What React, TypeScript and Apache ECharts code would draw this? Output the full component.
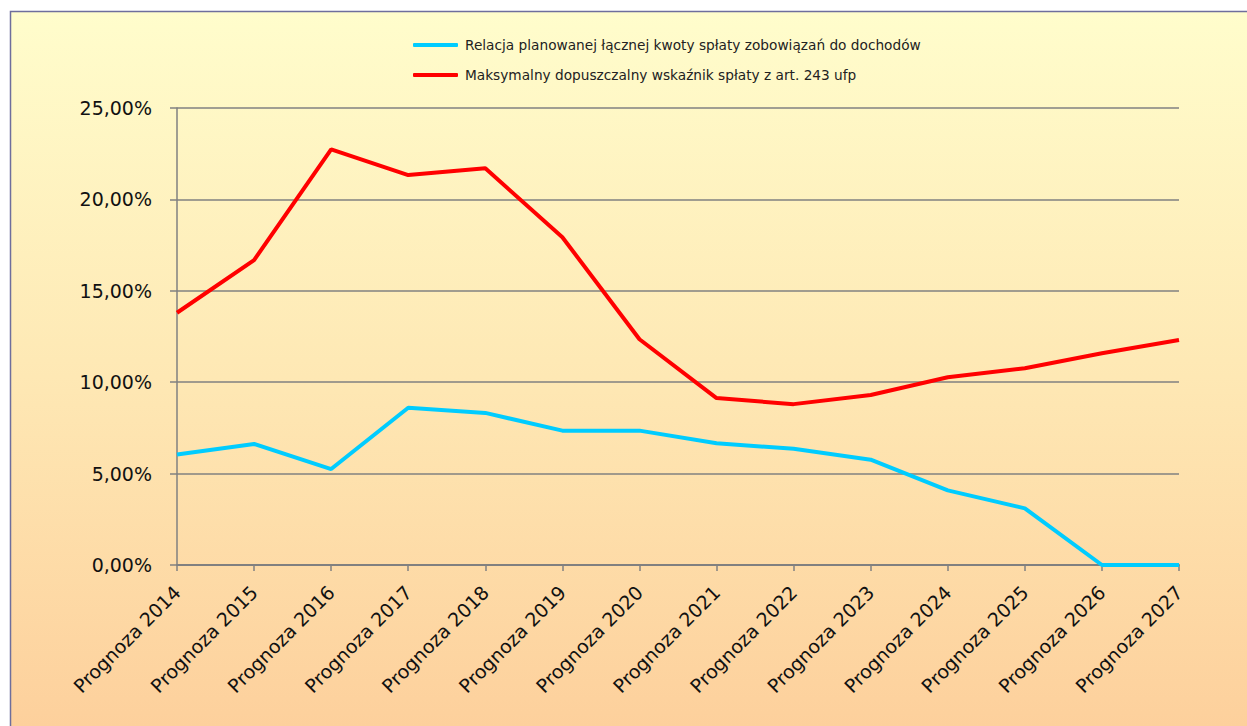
import React, { useEffect, useRef } from "react";
import * as echarts from "echarts";

const categories = [
  "Prognoza 2014", "Prognoza 2015", "Prognoza 2016", "Prognoza 2017", "Prognoza 2018",
  "Prognoza 2019", "Prognoza 2020", "Prognoza 2021", "Prognoza 2022", "Prognoza 2023",
  "Prognoza 2024", "Prognoza 2025", "Prognoza 2026", "Prognoza 2027",
];

const relacjaName = "Relacja planowanej łącznej kwoty spłaty zobowiązań do dochodów";
const relacjaValues = [6.05, 6.62, 5.25, 8.6, 8.32, 7.35, 7.35, 6.66, 6.36, 5.76, 4.08, 3.1, 0, 0];

const maksName = "Maksymalny dopuszczalny wskaźnik spłaty z art. 243 ufp";
const maksValues = [13.8, 16.68, 22.74, 21.33, 21.7, 17.93, 12.35, 9.13, 8.8, 9.3, 10.27, 10.76, 11.58, 12.31];

const yTicks = { min: 0, max: 25, interval: 5 };

const fmt = (v: number) => v.toFixed(2).replace(".", ",") + "%";

export default function App() {
  const ref = useRef<HTMLDivElement>(null);
  useEffect(() => {
    if (!ref.current) return;
    const chart = echarts.init(ref.current, null, { renderer: "svg" });
    chart.setOption({
      animation: false,
      backgroundColor: "#ffffff",
      graphic: [
        {
          type: "rect",
          z: -10,
          silent: true,
          shape: { x: 10.5, y: 11.5, width: 1260, height: 730 },
          style: {
            fill: new echarts.graphic.LinearGradient(0, 0, 0, 1, [
              { offset: 0, color: "#FFFDCC" },
              { offset: 0.5, color: "#FEE8B4" },
              { offset: 1, color: "#FDCF9B" },
            ]),
            stroke: "#6E6E9C",
            lineWidth: 1.5,
          },
        },
      ],
      legend: {
        orient: "vertical",
        left: 408,
        top: 32,
        itemWidth: 45,
        itemHeight: 4,
        itemGap: 14,
        icon: "roundRect",
        textStyle: { fontFamily: "DejaVu Sans", fontSize: 13.7, color: "#222", lineHeight: 16, padding: [0, 0, 0, 2] },
        data: [relacjaName, maksName],
      },
      grid: { left: 177, right: 68, top: 108, bottom: 161, containLabel: false },
      xAxis: {
        type: "category",
        data: categories,
        boundaryGap: false,
        axisLine: { lineStyle: { color: "#808080", width: 2 } },
        axisTick: { show: true, length: 6, inside: false, lineStyle: { color: "#808080", width: 1.5 } },
        axisLabel: {
          rotate: 45,
          margin: 24,
          interval: 0,
          fontFamily: "DejaVu Sans",
          fontSize: 19,
          color: "#111",
        },
        splitLine: { show: false },
      },
      yAxis: {
        type: "value",
        min: yTicks.min,
        max: yTicks.max,
        interval: yTicks.interval,
        axisLine: { show: true, lineStyle: { color: "#808080", width: 1.5 } },
        axisTick: { show: true, length: 7, lineStyle: { color: "#808080", width: 1.5 } },
        axisLabel: {
          margin: 25,
          fontFamily: "DejaVu Sans",
          fontSize: 19,
          color: "#111",
          formatter: (v: number) => fmt(v),
        },
        splitLine: { show: true, lineStyle: { color: "#808080", width: 1.5 } },
      },
      series: [
        {
          name: relacjaName,
          type: "line",
          data: relacjaValues,
          symbol: "none",
          showSymbol: false,
          color: "#00CCFF",
          lineStyle: { color: "#00CCFF", width: 4 },
          z: 3,
        },
        {
          name: maksName,
          type: "line",
          data: maksValues,
          symbol: "none",
          showSymbol: false,
          color: "#FF0000",
          lineStyle: { color: "#FF0000", width: 4 },
          z: 4,
        },
      ],
    });
    return () => chart.dispose();
  }, []);
  return (
    <div
      ref={ref}
      style={{ position: "absolute", left: 0, top: 0, width: 1247, height: 726 }}
    />
  );
}
